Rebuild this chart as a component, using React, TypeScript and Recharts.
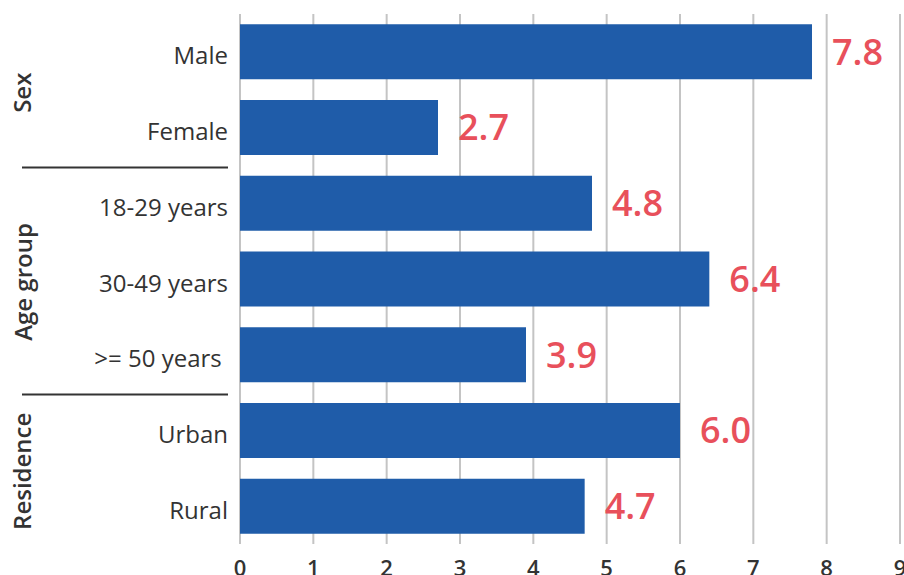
import React from 'react';
import { BarChart, Bar, XAxis, YAxis, CartesianGrid, LabelList } from 'recharts';

const categories = ['Male', 'Female', '18-29 years', '30-49 years', '>= 50 years ', 'Urban', 'Rural'];
const values = [7.8, 2.7, 4.8, 6.4, 3.9, 6.0, 4.7];
const groups = [
  { name: 'Sex', count: 2 },
  { name: 'Age group', count: 3 },
  { name: 'Residence', count: 2 },
];
const xTicks = [0, 1, 2, 3, 4, 5, 6, 7, 8, 9];

const WIDTH = 904;
const HEIGHT = 575;
const MARGIN = { top: 14, right: 4, bottom: 0, left: 0 };
const X_AXIS_H = 31;
const PLOT_H = HEIGHT - MARGIN.top - MARGIN.bottom - X_AXIS_H;
const STEP = PLOT_H / categories.length;

const BAR = '#1f5ca9';
const LABEL = '#e8505b';
const TEXT = '#333333';
const FONT = '"Open Sans", "Noto Sans", sans-serif';

const data = categories.map((name, i) => ({ name, value: values[i] }));

// index of the first row in each group
const groupStarts: Record<number, { name: string; count: number; first: boolean }> = {};
let acc = 0;
groups.forEach((g, gi) => {
  groupStarts[acc] = { ...g, first: gi === 0 };
  acc += g.count;
});

const CategoryTick = (props: any) => {
  const { y, payload, index } = props;
  const group = groupStarts[index];
  const gy = group ? y + ((group.count - 1) * STEP) / 2 + 3 : 0;
  return (
    <g>
      <text
        x={228}
        y={y + 3}
        textAnchor="end"
        dominantBaseline="central"
        fontSize={24}
        fill={TEXT}
        fontFamily={FONT}
        style={{ whiteSpace: 'pre' }}
      >
        {payload.value}
      </text>
      {group && (
        <text
          x={22}
          y={gy}
          transform={`rotate(-90, 22, ${gy})`}
          textAnchor="middle"
          dominantBaseline="central"
          fontSize={24}
          fontWeight={600}
          fill={TEXT}
          fontFamily={FONT}
        >
          {group.name}
        </text>
      )}
      {group && !group.first && (
        <line x1={22} x2={228} y1={y - STEP / 2 + 2} y2={y - STEP / 2 + 2} stroke={TEXT} strokeWidth={2} />
      )}
    </g>
  );
};

export default function App() {
  return (
    <div style={{ position: 'absolute', left: 0, top: 0, background: '#fff', fontFamily: FONT }}>
      <BarChart width={WIDTH} height={HEIGHT} data={data} layout="vertical" margin={MARGIN} barCategoryGap="13.7%">
        <CartesianGrid horizontal={false} stroke="#c4c4c4" strokeWidth={2} />
        <XAxis
          type="number"
          domain={[0, 9]}
          ticks={xTicks}
          axisLine={false}
          tickLine={false}
          height={X_AXIS_H}
          tickMargin={10}
          tick={{ fontSize: 22, fontWeight: 600, fill: TEXT, fontFamily: FONT }}
          interval={0}
        />
        <YAxis
          type="category"
          dataKey="name"
          width={240}
          axisLine={false}
          tickLine={false}
          interval={0}
          tick={<CategoryTick />}
        />
        <Bar dataKey="value" fill={BAR} isAnimationActive={false}>
          <LabelList
            dataKey="value"
            position="right"
            offset={20}
            formatter={(v: any) => Number(v).toFixed(1)}
            style={{ fontSize: 36, fontWeight: 600, fill: LABEL, fontFamily: FONT }}
          />
        </Bar>
      </BarChart>
    </div>
  );
}
